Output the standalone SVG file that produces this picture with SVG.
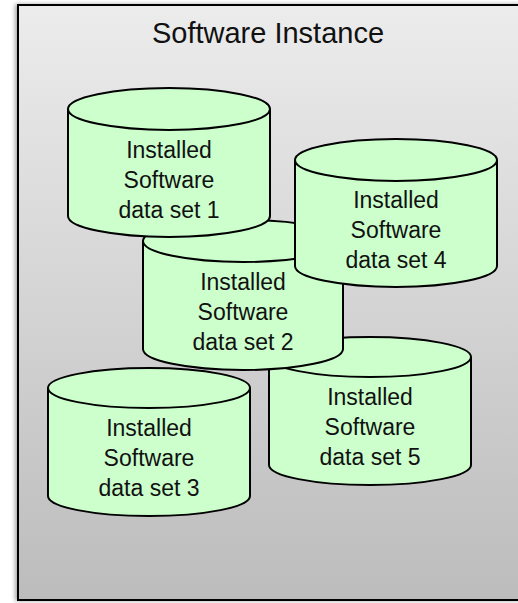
<svg xmlns="http://www.w3.org/2000/svg" width="518" height="603" viewBox="0 0 518 603">
<defs>
<linearGradient id="bg" x1="0" y1="0" x2="0" y2="1">
<stop offset="0" stop-color="#ececec"/>
<stop offset="1" stop-color="#bcbcbc"/>
</linearGradient>
<filter id="sh" x="-5%" y="-5%" width="110%" height="110%">
<feGaussianBlur in="SourceAlpha" stdDeviation="2"/>
<feOffset dx="-2" dy="0" result="b"/>
<feComponentTransfer><feFuncA type="linear" slope="0.35"/></feComponentTransfer>
<feMerge><feMergeNode/><feMergeNode in="SourceGraphic"/></feMerge>
</filter>
</defs>
<style>
.cyl{fill:#ccffcc;stroke:#000;stroke-width:2}
.rim{fill:none;stroke:#000;stroke-width:2}
.lbl{font-family:"Liberation Sans",Arial,sans-serif;font-size:23px;fill:#111;text-anchor:middle}
.title{font-family:"Liberation Sans",Arial,sans-serif;font-size:29px;fill:#111;text-anchor:middle}
</style>
<g id="container">
<rect x="18" y="5" width="503" height="595" fill="url(#bg)" stroke="#000" stroke-width="2" filter="url(#sh)"/>
<text class="title" x="268" y="43">Software Instance</text>
</g>
<g id="cyl3">
<path class="cyl" d="M48,388 A101,20 0 0 1 250,388 V496 A101,20 0 0 1 48,496 Z"/>
<path class="rim" d="M48,388 A101,20 0 0 0 250,388"/>
<text class="lbl" x="149" y="436">Installed</text>
<text class="lbl" x="149" y="466">Software</text>
<text class="lbl" x="149" y="496">data set 3</text>
</g>
<g id="cyl5">
<path class="cyl" d="M269,357 A101,20 0 0 1 471,357 V465 A101,20 0 0 1 269,465 Z"/>
<path class="rim" d="M269,357 A101,20 0 0 0 471,357"/>
<text class="lbl" x="370" y="405">Installed</text>
<text class="lbl" x="370" y="435">Software</text>
<text class="lbl" x="370" y="465">data set 5</text>
</g>
<g id="cyl2">
<path class="cyl" d="M143,241 A100,21 0 0 1 343,241 V349 A100,21 0 0 1 143,349 Z"/>
<path class="rim" d="M143,241 A100,21 0 0 0 343,241"/>
<text class="lbl" x="243" y="290">Installed</text>
<text class="lbl" x="243" y="320">Software</text>
<text class="lbl" x="243" y="350">data set 2</text>
</g>
<g id="cyl1">
<path class="cyl" d="M68,109 A101,21 0 0 1 270,109 V216 A101,21 0 0 1 68,216 Z"/>
<path class="rim" d="M68,109 A101,21 0 0 0 270,109"/>
<text class="lbl" x="169" y="158">Installed</text>
<text class="lbl" x="169" y="188">Software</text>
<text class="lbl" x="169" y="218">data set 1</text>
</g>
<g id="cyl4">
<path class="cyl" d="M295,160 A101,21 0 0 1 497,160 V266 A101,21 0 0 1 295,266 Z"/>
<path class="rim" d="M295,160 A101,21 0 0 0 497,160"/>
<text class="lbl" x="396" y="208">Installed</text>
<text class="lbl" x="396" y="238">Software</text>
<text class="lbl" x="396" y="268">data set 4</text>
</g>
<g id="connectors"/>
</svg>
